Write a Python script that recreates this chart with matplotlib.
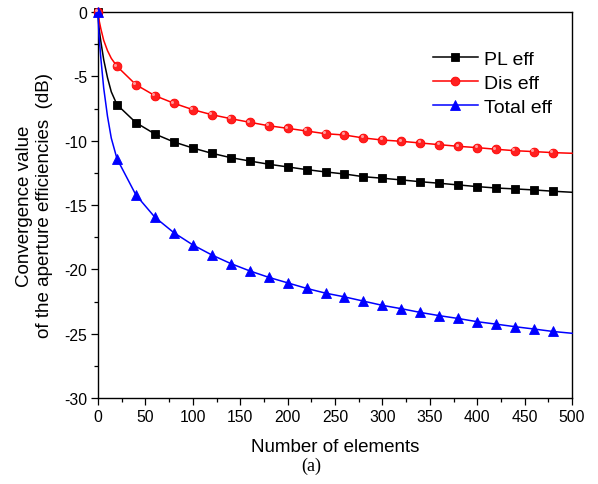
import matplotlib
matplotlib.use("Agg")
import matplotlib.pyplot as plt
import matplotlib.transforms as mtransforms
from matplotlib.ticker import MultipleLocator

# Early (curve-shape) read points, between N=0 and the first marker
x_early = [0, 1, 3, 6, 10, 14]
pl_early = [0.0, -1.2, -2.3, -3.7, -5.1, -6.2]
dis_early = [0.0, -0.6, -1.3, -2.2, -3.0, -3.6]
tot_early = [0.0, -1.8, -3.6, -5.9, -8.1, -9.8]

# Marker positions (every 20 elements) and values
x_mark = list(range(20, 500, 20))
pl_mark = [-7.20, -8.60, -9.48, -10.10, -10.57, -10.98, -11.32, -11.58, -11.83, -12.04,
           -12.25, -12.43, -12.59, -12.80, -12.92, -13.05, -13.19, -13.31, -13.44, -13.57,
           -13.68, -13.75, -13.83, -13.93]
dis_mark = [-4.22, -5.65, -6.50, -7.09, -7.59, -7.98, -8.29, -8.57, -8.84, -9.04,
            -9.25, -9.46, -9.56, -9.79, -9.95, -10.05, -10.18, -10.31, -10.44, -10.54,
            -10.67, -10.78, -10.85, -10.93]
tot_mark = [-11.40, -14.22, -15.95, -17.15, -18.10, -18.88, -19.55, -20.12, -20.62, -21.05,
            -21.48, -21.85, -22.14, -22.47, -22.80, -23.06, -23.35, -23.60, -23.82, -24.07,
            -24.26, -24.46, -24.64, -24.83]

# End of the curves at N=500
x_end = 500
pl_end = -14.01
dis_end = -10.98
tot_end = -24.97

xticks = [0, 50, 100, 150, 200, 250, 300, 350, 400, 450, 500]
yticks = [0, -5, -10, -15, -20, -25, -30]

plt.rcParams['font.family'] = ['Liberation Sans', 'DejaVu Sans']

fig = plt.figure(figsize=(5.98, 4.85), dpi=100)
ax = fig.add_axes([98/598, 1-399/485, 474/598, 386/485])

x_all = x_early + x_mark + [x_end]
mark_idx = [0] + list(range(len(x_early), len(x_early) + len(x_mark)))

series = [
    ("PL eff", pl_early + pl_mark + [pl_end], 'black', 's', 6.0, 'black'),
    ("Dis eff", dis_early + dis_mark + [dis_end], 'red', 'o', 6.3, '#ff2020'),
    ("Total eff", tot_early + tot_mark + [tot_end], 'blue', '^', 7.5, 'blue'),
]
for label, y, c, m, ms, fc in series:
    ax.plot(x_all, y, color=c, lw=1.1, marker=m, ms=ms, markevery=mark_idx,
            markerfacecolor=fc, markeredgecolor=c, markeredgewidth=0.6, label=label,
            clip_on=False, zorder=3)

# highlight on the red balls
hl = mtransforms.offset_copy(ax.transData, fig=fig, x=-1.2, y=1.2, units='points')
dis_all = dis_early + dis_mark + [dis_end]
ax.plot([x_all[i] for i in mark_idx], [dis_all[i] for i in mark_idx], linestyle='none',
        marker='o', ms=2.2, markerfacecolor='#ff9a9a', markeredgewidth=0,
        transform=hl, clip_on=False, zorder=4)

ax.set_xlim(0, 500)
ax.set_ylim(-30, 0)
ax.set_xticks(xticks)
ax.set_yticks(yticks)
ax.set_yticklabels([str(v) for v in yticks])
ax.xaxis.set_minor_locator(MultipleLocator(25))
ax.yaxis.set_minor_locator(MultipleLocator(2.5))
ax.tick_params(which='major', direction='out', length=5, width=0.9, labelsize=11.3, pad=3)
ax.tick_params(which='minor', direction='out', length=3, width=0.9)
for s in ax.spines.values():
    s.set_linewidth(1.0)

ax.set_xlabel("Number of elements", fontsize=13.5, labelpad=10)
ax.set_ylabel("Convergence value\nof the aperture efficiencies  (dB)", fontsize=13.5,
              labelpad=8, linespacing=1.2)

leg = ax.legend(loc='upper left', bbox_to_anchor=(0.707, 0.900), frameon=False,
                fontsize=14, borderpad=0, borderaxespad=0, handlelength=2.3,
                handletextpad=0.3, labelspacing=0.33, numpoints=1)

fig.text(0.52, 1-466/485, "(a)", fontsize=13, ha='center', va='center',
         family=['Liberation Serif', 'DejaVu Serif'])

fig.savefig("out.png", dpi=100)
